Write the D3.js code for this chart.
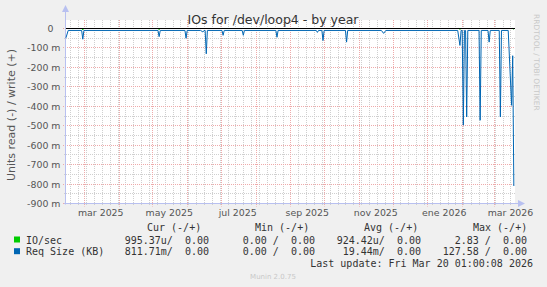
<!DOCTYPE html>
<html>
<head>
<meta charset="utf-8">
<script src="https://cdn.jsdelivr.net/npm/d3@7"></script>
<style>
  body { margin: 0; background: #f0f0f0; }
  svg { display: block; }
  .pre { white-space: pre; }
</style>
</head>
<body>
<svg id="chart" width="547" height="287"></svg>
<script>
// Req Size (KB), read side, in milli-units
const reqSizeRead = [
  ["2025-02-13", -48], ["2025-02-15", -10],
  ["2025-02-27", -10], ["2025-02-28", -55], ["2025-03-01", -10],
  ["2025-05-06", -10], ["2025-05-07", -42], ["2025-05-08", -10],
  ["2025-05-30", -10], ["2025-05-31", -50], ["2025-06-01", -10],
  ["2025-06-13", -10], ["2025-06-15", -18], ["2025-06-16", -10],
  ["2025-06-17", -10], ["2025-06-18", -130], ["2025-06-19", -10],
  ["2025-07-02", -10], ["2025-07-03", -35], ["2025-07-04", -10],
  ["2025-07-20", -10], ["2025-07-21", -35], ["2025-07-22", -10],
  ["2025-08-19", -10], ["2025-08-20", -45], ["2025-08-21", -10],
  ["2025-09-24", -10], ["2025-09-25", -20], ["2025-09-26", -10],
  ["2025-09-29", -10], ["2025-09-30", -62], ["2025-10-01", -10],
  ["2025-10-20", -10], ["2025-10-21", -70], ["2025-10-22", -10],
  ["2025-11-21", -10], ["2025-11-23", -25], ["2025-11-25", -10],
  ["2026-01-28", -10], ["2026-01-30", -87], ["2026-01-31", -10],
  ["2026-02-01", -10], ["2026-02-02", -497], ["2026-02-03", -10],
  ["2026-02-04", -10], ["2026-02-05", -455], ["2026-02-06", -10],
  ["2026-02-16", -10], ["2026-02-17", -472], ["2026-02-18", -10],
  ["2026-02-24", -10], ["2026-02-25", -70], ["2026-02-26", -10],
  ["2026-03-06", -10], ["2026-03-07", -455], ["2026-03-08", -10],
  ["2026-03-14", -10], ["2026-03-17", -395], ["2026-03-18", -140],
  ["2026-03-19", -810]
];

// IO/sec, read side, in milli-units
const ioSecRead = [
  ["2025-02-13", 0], ["2025-02-27", 0], ["2025-02-28", -7], ["2025-03-01", 0],
  ["2025-05-06", 0], ["2025-05-07", -6], ["2025-05-08", 0],
  ["2026-01-29", 0], ["2026-01-30", -4], ["2026-01-31", 0],
  ["2026-03-18", 0], ["2026-03-19", -4]
];

const yTicks = [0, -100, -200, -300, -400, -500, -600, -700, -800, -900];
const xLabels = [
  ["2025-03-16", "mar 2025"], ["2025-05-16", "may 2025"], ["2025-07-16", "jul 2025"],
  ["2025-09-16", "sep 2025"], ["2025-11-16", "nov 2025"], ["2026-01-16", "ene 2026"],
  ["2026-03-16", "mar 2026"]
];

const legendRows = [
  { name: "IO/sec", color: "#00cc00", cur: "995.37u/  0.00", min: "0.00 /  0.00", avg: "924.42u/  0.00", max: "2.83 /  0.00" },
  { name: "Req Size (KB)", color: "#0066b3", cur: "811.71m/  0.00", min: "0.00 /  0.00", avg: "19.44m/  0.00", max: "127.58 /  0.00" }
];

const width = 547, height = 287;
const plot = { left: 66, right: 515, top: 28.5, bottom: 203.5 };
const parse = d3.timeParse("%Y-%m-%d");

const svg = d3.select("#chart");
svg.append("rect").attr("width", width).attr("height", height).attr("fill", "#f0f0f0");
svg.append("rect")
  .attr("x", plot.left).attr("y", 20)
  .attr("width", plot.right - plot.left).attr("height", plot.bottom - 20)
  .attr("fill", "#ffffff");

const x = d3.scaleTime()
  .domain([new Date(2025, 1, 13, 1), new Date(2026, 2, 20, 1)])
  .range([plot.left, plot.right]);
const y = d3.scaleLinear().domain([-900, 0]).range([plot.bottom, plot.top]);
const crispY = v => Math.floor(y(v)) + 0.5;
const crispX = d => Math.round(x(d)) + 0.5;

// Grid: minor
const weeks = d3.timeMonday.range(x.domain()[0], x.domain()[1]);
const months = d3.timeMonth.range(x.domain()[0], x.domain()[1]);
const grid = svg.append("g");
grid.selectAll(".vminor").data(weeks).join("line")
  .attr("x1", crispX).attr("x2", crispX)
  .attr("y1", 20).attr("y2", plot.bottom + 2)
  .attr("stroke", "#cfcfcf").attr("stroke-dasharray", "1,1");
const halfTicks = d3.range(-850, 0, 100);
grid.selectAll(".hminor").data(halfTicks).join("line")
  .attr("x1", plot.left - 2).attr("x2", plot.right)
  .attr("y1", crispY).attr("y2", crispY)
  .attr("stroke", "#cfcfcf").attr("stroke-dasharray", "1,1");
// Grid: major
grid.selectAll(".vmajor").data(months).join("line")
  .attr("x1", crispX).attr("x2", crispX)
  .attr("y1", 20).attr("y2", plot.bottom + 3)
  .attr("stroke", "#eeaaaa").attr("stroke-dasharray", "1,1");
grid.selectAll(".hmajor").data(yTicks).join("line")
  .attr("x1", plot.left - 3).attr("x2", plot.right)
  .attr("y1", crispY).attr("y2", crispY)
  .attr("stroke", "#eeaaaa").attr("stroke-dasharray", "1,1");

// Axes lines with arrows
const axisColor = "#b8c0f0";
svg.append("line").attr("x1", plot.left - 0.5).attr("x2", plot.left - 0.5)
  .attr("y1", plot.bottom + 1).attr("y2", 12).attr("stroke", axisColor);
svg.append("path")
  .attr("d", `M${plot.left - 4},12L${plot.left - 0.5},5L${plot.left + 3},12Z`)
  .attr("fill", axisColor);
svg.append("line").attr("x1", plot.left - 2).attr("x2", plot.right + 5)
  .attr("y1", plot.bottom).attr("y2", plot.bottom).attr("stroke", axisColor);
svg.append("path")
  .attr("d", `M${plot.right + 3},${plot.bottom - 3.5}L${plot.right + 10},${plot.bottom}L${plot.right + 3},${plot.bottom + 3.5}Z`)
  .attr("fill", axisColor);

// Tick labels
const tickFont = "DejaVu Sans, sans-serif";
svg.append("g").selectAll("text").data(yTicks).join("text")
  .attr("x", d => d === 0 ? 53.5 : 60.5)
  .attr("y", d => y(d) + 3.5)
  .attr("text-anchor", "end")
  .attr("font-family", tickFont).attr("font-size", "9.4px").attr("fill", "#555")
  .text(d => d === 0 ? "0" : `${d} m`);
svg.append("g").selectAll("text").data(xLabels).join("text")
  .attr("x", d => x(parse(d[0])))
  .attr("y", 216)
  .attr("text-anchor", "middle")
  .attr("font-family", tickFont).attr("font-size", "9.4px").attr("fill", "#555")
  .text(d => d[1]);

// Series
const line = d3.line().x(d => x(parse(d[0]))).y(d => y(d[1]));
svg.append("path").datum(ioSecRead).attr("d", line)
  .attr("fill", "none").attr("stroke", "#00cc00").attr("stroke-width", 1);
svg.append("path").datum(reqSizeRead).attr("d", line)
  .attr("fill", "none").attr("stroke", "#0066b3").attr("stroke-width", 1);
// write side is zero for both series
svg.append("line").attr("x1", plot.left).attr("x2", plot.right)
  .attr("y1", y(0)).attr("y2", y(0)).attr("stroke", "#000").attr("stroke-width", 1);

// Titles
svg.append("text").attr("x", 273).attr("y", 23.5).attr("text-anchor", "middle")
  .attr("font-family", tickFont).attr("font-size", "12.5px").attr("fill", "#333")
  .text("IOs for /dev/loop4 - by year");
svg.append("text").attr("transform", "translate(15,115) rotate(-90)").attr("text-anchor", "middle")
  .attr("font-family", tickFont).attr("font-size", "11px").attr("fill", "#555")
  .text("Units read (-) / write (+)");
svg.append("text").attr("transform", "translate(534,14) rotate(90)").attr("text-anchor", "start")
  .attr("font-family", tickFont).attr("font-size", "7.5px").attr("fill", "#c8c8c8")
  .text("RRDTOOL / TOBI OETIKER");

// Legend
const mono = "DejaVu Sans Mono, monospace";
const lg = svg.append("g").attr("font-family", mono).attr("font-size", "10px").attr("fill", "#333");
[["Cur (-/+)", 147], ["Min (-/+)", 255], ["Avg (-/+)", 364], ["Max (-/+)", 473]].forEach(([t, px]) => {
  lg.append("text").attr("class", "pre").attr("x", px).attr("y", 231).text(t);
});
legendRows.forEach((r, i) => {
  const yy = 243.5 + i * 11.7;
  lg.append("rect").attr("x", 14).attr("y", yy - 7).attr("width", 6).attr("height", 6).attr("fill", r.color);
  lg.append("text").attr("class", "pre").attr("x", 26).attr("y", yy).text(r.name);
  [[r.cur, 209], [r.min, 315], [r.avg, 421], [r.max, 527]].forEach(([t, px]) => {
    lg.append("text").attr("class", "pre").attr("x", px).attr("y", yy).attr("text-anchor", "end").text(t);
  });
});
lg.append("text").attr("class", "pre").attr("x", 533).attr("y", 267).attr("text-anchor", "end")
  .text("Last update: Fri Mar 20 01:00:08 2026");
svg.append("text").attr("x", 273).attr("y", 279).attr("text-anchor", "middle")
  .attr("font-family", tickFont).attr("font-size", "7px").attr("fill", "#c8c8c8")
  .text("Munin 2.0.75");
</script>
</body>
</html>
